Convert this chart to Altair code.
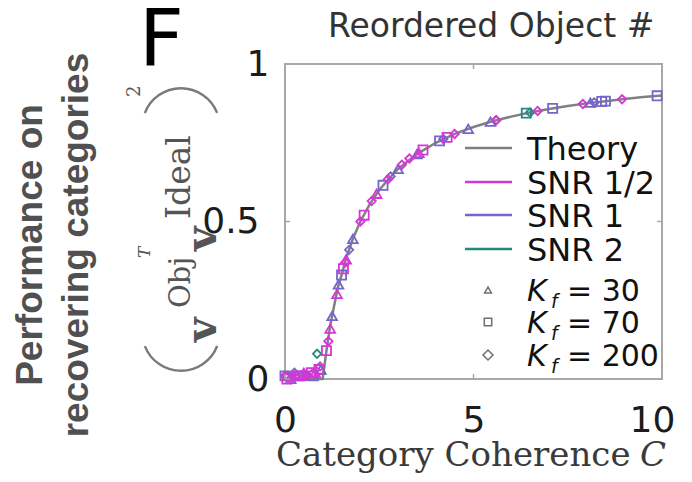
import altair as alt
import pandas as pd

# ---- theory curve (category coherence vs. overlap) ----
theory_c = [0.0, 0.5, 1.0, 1.1, 1.2, 1.3, 1.4, 1.5, 1.6, 1.8, 2.0, 2.25, 2.5, 2.75,
            3.0, 3.5, 4.0, 4.5, 5.0, 5.5, 6.0, 6.5, 7.0, 7.5, 8.0, 8.5, 9.0, 9.5, 10.0]
theory_v = [0.0, 0.0, 0.0, 0.09, 0.17, 0.23, 0.29, 0.33, 0.375, 0.445, 0.5, 0.555, 0.6, 0.635,
            0.667, 0.714, 0.75, 0.778, 0.8, 0.818, 0.833, 0.846, 0.857, 0.867, 0.875, 0.882, 0.889, 0.895, 0.9]

# ---- simulations: SNR 1/2 ----
half_k30_c = [0.2, 0.5, 0.8, 1.2, 1.38, 1.62, 2.43, 3.55]
half_k30_v = [0.01, 0.02, 0.02, 0.16, 0.27, 0.38, 0.588, 0.718]
half_k70_c = [0.05, 0.4, 0.7, 0.9, 1.1, 1.55, 2.1, 3.66, 4.3]
half_k70_v = [0.0, 0.01, 0.02, 0.03, 0.09, 0.35, 0.52, 0.727, 0.767]
half_k200_c = [0.0, 0.15, 0.3, 0.45, 0.6, 0.75, 0.93, 1.15, 1.6, 2.0, 2.3, 2.73, 3.1, 3.3,
               4.5, 5.6, 6.7, 7.9, 8.94]
half_k200_v = [0.01, 0.0, 0.01, 0.01, 0.01, 0.02, 0.04, 0.12, 0.37, 0.50, 0.565, 0.634, 0.68, 0.70,
               0.778, 0.822, 0.851, 0.873, 0.888]
# ---- simulations: SNR 1 ----
one_k30_c = [0.15, 0.45, 1.25, 1.42, 1.8, 3.0, 3.5, 4.86, 5.45, 8.1]
one_k30_v = [0.0, 0.01, 0.2, 0.3, 0.445, 0.667, 0.714, 0.794, 0.817, 0.877]
one_k70_c = [0.0, 0.35, 0.75, 1.5, 2.6, 4.1, 7.1, 8.4, 8.5, 9.87]
one_k70_v = [0.01, 0.01, 0.01, 0.33, 0.615, 0.756, 0.859, 0.881, 0.882, 0.899]
one_k200_c = [0.05, 0.25, 0.55, 1.7, 2.8, 4.2, 5.6, 8.2]
one_k200_v = [0.01, 0.02, 0.01, 0.41, 0.643, 0.762, 0.821, 0.878]
# ---- simulations: SNR 2 ----
two_k30_c = [0.95]
two_k30_v = [0.03]
two_k70_c = [6.4]
two_k70_v = [0.844]
two_k200_c = [0.85, 6.5]
two_k200_v = [0.08, 0.846]

snr_names = ["SNR 1/2", "SNR 1", "SNR 2"]
snr_colors = ["#d438d4", "#7466cc", "#23897f"]
k_names = ["30", "70", "200"]
k_shapes = ["triangle-up", "square", "diamond"]
k_sizes = [95, 70, 130]

series = [
    ("SNR 2", "30", two_k30_c, two_k30_v), ("SNR 2", "70", two_k70_c, two_k70_v),
    ("SNR 2", "200", two_k200_c, two_k200_v),
    ("SNR 1", "30", one_k30_c, one_k30_v), ("SNR 1", "70", one_k70_c, one_k70_v),
    ("SNR 1", "200", one_k200_c, one_k200_v),
    ("SNR 1/2", "30", half_k30_c, half_k30_v), ("SNR 1/2", "70", half_k70_c, half_k70_v),
    ("SNR 1/2", "200", half_k200_c, half_k200_v),
]
rows = []
for snr, k, cs, vs in series:
    for c, v in zip(cs, vs):
        rows.append({"C": c, "V": v, "snr": snr, "k": k})
sim = pd.DataFrame(rows)
theory = pd.DataFrame({"C": theory_c, "V": theory_v})

W, H = 377, 315
PX, PY = 285, 64  # plot origin on the page

x_scale = alt.Scale(domain=[0, 10], nice=False)
y_scale = alt.Scale(domain=[0, 1], nice=False)
x_axis = alt.Axis(values=[0, 5, 10], labelFontSize=36, labelFont="DejaVu Sans", labelColor="#1c1c1c",
                  domain=False, ticks=False, grid=False, title=None, labelPadding=24, labelFlush=False,
                  labelOffset={"condition": {"test": "datum.value == 10", "value": -10}, "value": 0})
y_axis = alt.Axis(values=[0, 0.5, 1], format="~g", labelFontSize=36, labelFont="DejaVu Sans",
                  labelColor="#1c1c1c", domain=False, ticks=False, grid=False, title=None,
                  labelPadding={"condition": {"test": "datum.value == 0.5", "value": 26}, "value": 16})

line = alt.Chart(theory).mark_line(color="#808080", strokeWidth=2.5).encode(
    x=alt.X("C:Q", scale=x_scale, axis=x_axis),
    y=alt.Y("V:Q", scale=y_scale, axis=y_axis),
)
points = alt.Chart(sim).mark_point(filled=False, strokeWidth=1.8, opacity=1).encode(
    x=alt.X("C:Q", scale=x_scale, axis=x_axis),
    y=alt.Y("V:Q", scale=y_scale, axis=y_axis),
    color=alt.Color("snr:N", scale=alt.Scale(domain=snr_names, range=snr_colors), legend=None),
    shape=alt.Shape("k:N", scale=alt.Scale(domain=k_names, range=k_shapes), legend=None),
    size=alt.Size("k:N", scale=alt.Scale(domain=k_names, range=k_sizes), legend=None),
)

# inward tick marks on all four sides of the box
tick_style = dict(color="#a8a8a8", strokeWidth=1.5)
xt = pd.DataFrame({"t": [0, 5, 10]})
yt = pd.DataFrame({"t": [0, 0.5, 1]})
ticks = [
    alt.Chart(xt).mark_rule(**tick_style).encode(x=alt.X("t:Q", scale=x_scale, axis=x_axis),
                                                 y=alt.value(H), y2=alt.value(H - 5)),
    alt.Chart(xt).mark_rule(**tick_style).encode(x=alt.X("t:Q", scale=x_scale, axis=x_axis),
                                                 y=alt.value(0), y2=alt.value(5)),
    alt.Chart(yt).mark_rule(**tick_style).encode(y=alt.Y("t:Q", scale=y_scale, axis=y_axis),
                                                 x=alt.value(0), x2=alt.value(5)),
    alt.Chart(yt).mark_rule(**tick_style).encode(y=alt.Y("t:Q", scale=y_scale, axis=y_axis),
                                                 x=alt.value(W - 5), x2=alt.value(W)),
]

one = pd.DataFrame({"t": [0]})


def label(text, xa, ya, size, font="DejaVu Sans", color="#111111", weight="normal",
          style="normal", angle=0, align="left", baseline="alphabetic"):
    return alt.Chart(pd.DataFrame({"t": [text]})).mark_text(
        font=font, fontSize=size, color=color, fontWeight=weight, fontStyle=style,
        angle=angle, align=align, baseline=baseline,
    ).encode(x=alt.value(xa - PX), y=alt.value(ya - PY), text="t:N")


def paren(cx, cy, start, end, r=40, w=2.4, color="#7a7a7a"):
    # thin circular arc standing in for a large delimiter
    return alt.Chart(one).mark_arc(radius=r, radius2=r - w, theta=start, theta2=end,
                                   color=color).encode(x=alt.value(cx - PX), y=alt.value(cy - PY))


texts = []
# panel letter and title
texts.append(label("F", 139, 65, 78, color="#000000"))
texts.append(label("Reordered Object #", 328, 37, 33, color="#333333"))
# row label on the far left
texts.append(label("Performance on", 42, 245, 37, font="Liberation Sans", color="#505050",
                   weight="bold", angle=270, align="center"))
texts.append(label("recovering categories", 88, 245, 37, font="Liberation Sans", color="#505050",
                   weight="bold", angle=270, align="center"))
# x-axis title
texts.append(label("Category Coherence", 276, 466, 34, font="DejaVu Serif", color="#3a3a3a"))
texts.append(label("C", 640, 466, 34, font="DejaVu Serif", color="#3a3a3a", style="italic"))
# y-axis title: (v^{Obj^T} v^{Ideal})^2, read bottom to top
fc = "#555555"
texts.append(paren(181, 332, 1.94, 4.34))
texts.append(label("v", 216, 342, 42, font="DejaVu Serif", color=fc, weight="bold", angle=270))
texts.append(label("Obj", 190, 308, 29, font="DejaVu Serif", color=fc, angle=270))
texts.append(label("T", 150, 258, 17, font="DejaVu Serif", color=fc, style="italic", angle=270))
texts.append(label("v", 216, 251, 42, font="DejaVu Serif", color=fc, weight="bold", angle=270))
texts.append(label("Ideal", 190, 219, 33, font="DejaVu Serif", color=fc, angle=270))
texts.append(paren(181, 127, 5.08, 7.48))
texts.append(label("2", 140, 97, 18, font="DejaVu Serif", color=fc, angle=270))

# legend inside the axes
legend = []
line_rows = [("Theory", "#808080", 148), ("SNR 1/2", snr_colors[0], 182),
             ("SNR 1", snr_colors[1], 215), ("SNR 2", snr_colors[2], 249)]
for name, col, yy in line_rows:
    legend.append(alt.Chart(one).mark_rule(color=col, strokeWidth=2.5).encode(
        x=alt.value(465 - PX), x2=alt.value(512 - PX), y=alt.value(yy - PY)))
    legend.append(label(name, 527, yy + 12, 32))
marker_rows = [("30", "triangle-up", 45, 290), ("70", "square", 55, 322), ("200", "diamond", 100, 355)]
for kv, shp, sz, yy in marker_rows:
    legend.append(alt.Chart(one).mark_point(shape=shp, filled=False, color="#707070", size=sz,
                                            strokeWidth=1.5, opacity=1).encode(
        x=alt.value(488 - PX), y=alt.value(yy - PY)))
    legend.append(label("K", 527, yy + 11, 30, style="italic"))
    legend.append(label("f", 551, yy + 18, 19, style="italic"))
    legend.append(label("= " + kv, 567, yy + 11, 30))

chart = alt.layer(line, points, *ticks, *legend, *texts).properties(
    width=W, height=H,
    autosize=alt.AutoSizeParams(type="none"),
    padding={"left": PX, "top": PY, "right": 692 - PX - W, "bottom": 482 - PY - H},
    background="white",
).configure_view(stroke="#a8a8a8", strokeWidth=2)

chart.save("out.html", embed_options={"renderer": "svg", "actions": False})
